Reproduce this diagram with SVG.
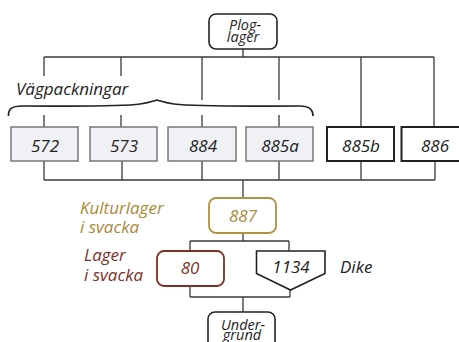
<svg xmlns="http://www.w3.org/2000/svg" width="459" height="342" viewBox="0 0 459 342">
  <style>
    .t { font-family: "Open Sans", "Liberation Sans", sans-serif; font-style: italic; font-size: 17px; fill: #222; }
    .s { font-size: 14.5px; }
    .c { text-anchor: middle; }
    .gray { fill: #f0f1f5; stroke: #74777a; stroke-width: 1.5; }
    .black { fill: #fff; stroke: #222; stroke-width: 2; }
    .round { fill: #fff; stroke: #222; stroke-width: 1.6; }
    .gold { fill: #fff; stroke: #b0913f; stroke-width: 1.8; }
    .red { fill: #fff; stroke: #7b3125; stroke-width: 1.8; }
    .goldtext { fill: #a8893a; }
    .redtext { fill: #7b3125; }
    .wire { fill: none; stroke: #3a3a3a; stroke-width: 1.3; }
  </style>

  <!-- connectors -->
  <g id="connectors" class="wire">
    <path d="M243,49 V57 M44,57 H434"/>
    <path d="M44,57 V76 M121,57 V76 M202,57 V100 M279,57 V100 M361,57 V127 M434,57 V127"/>
    <path d="M44,115 V127 M121,115 V127 M202,115 V127 M279,115 V127"/>
    <path d="M44,161 V180 M122,161 V180 M202,161 V180 M279,161 V180 M361,161 V180 M435,161 V180 M44,180 H435"/>
    <path d="M243,180 V198"/>
    <path d="M243,233 V241 M190,241 H289 M190,241 V251 M289,241 V251"/>
    <path d="M190,286 V297 M290,290 V297 M190,297 H290 M243,297 V312"/>
  </g>

  <!-- brace grouping the road layers -->
  <path id="brace" d="M8.5,116 C8,109 12,106 22,106 C70,106 120,107 140,104 C148,103 153,101 157,100 C161,101 166,103 174,104 C200,107 250,106 300,106 C309,106 313,109 313,116" fill="none" stroke="#222" stroke-width="1.7"/>
  <text class="t" x="16" y="94.5" font-size="17.5">Vägpackningar</text>

  <g id="ploglager">
    <rect class="round" x="209" y="14" width="68" height="35" rx="7"/>
    <text class="t s c" x="245" y="30">Plog-</text>
    <text class="t s c" x="243" y="42">lager</text>
  </g>

  <g id="n572"><rect class="gray" x="11" y="127" width="67" height="34"/><text class="t c" x="45" y="152">572</text></g>
  <g id="n573"><rect class="gray" x="90" y="127" width="67" height="34"/><text class="t c" x="124" y="152">573</text></g>
  <g id="n884"><rect class="gray" x="168" y="127" width="68" height="34"/><text class="t c" x="203" y="152">884</text></g>
  <g id="n885a"><rect class="gray" x="246" y="127" width="67" height="34"/><text class="t c" x="280" y="152">885a</text></g>
  <g id="n885b"><rect class="black" x="327" y="127" width="67" height="34"/><text class="t c" x="361" y="152">885b</text></g>
  <g id="n886"><rect class="black" x="401.5" y="127" width="67" height="34"/><text class="t c" x="435" y="152">886</text></g>

  <g id="n887">
    <rect class="gold" x="209" y="198" width="67" height="35" rx="7"/>
    <text class="t c goldtext" x="243" y="222">887</text>
  </g>
  <text class="t goldtext" x="80" y="213.5">Kulturlager</text>
  <text class="t goldtext" x="80" y="232.5">i svacka</text>

  <g id="n80">
    <rect class="red" x="157" y="251" width="67" height="35" rx="7"/>
    <text class="t c redtext" x="190" y="274">80</text>
  </g>
  <text class="t redtext" x="84" y="261">Lager</text>
  <text class="t redtext" x="84" y="280.5">i svacka</text>

  <g id="n1134">
    <path d="M256.5,251 H325 V273.5 L290.5,290 L256.5,273.5 Z" fill="#fff" stroke="#222" stroke-width="1.6"/>
    <text class="t c" x="291" y="272.5">1134</text>
  </g>
  <text class="t" x="340" y="272.5">Dike</text>

  <g id="undergrund">
    <rect class="round" x="208" y="312" width="67" height="40" rx="7"/>
    <text class="t s c" x="243" y="329.5">Under-</text>
    <text class="t s c" x="242" y="340">grund</text>
  </g>
</svg>
